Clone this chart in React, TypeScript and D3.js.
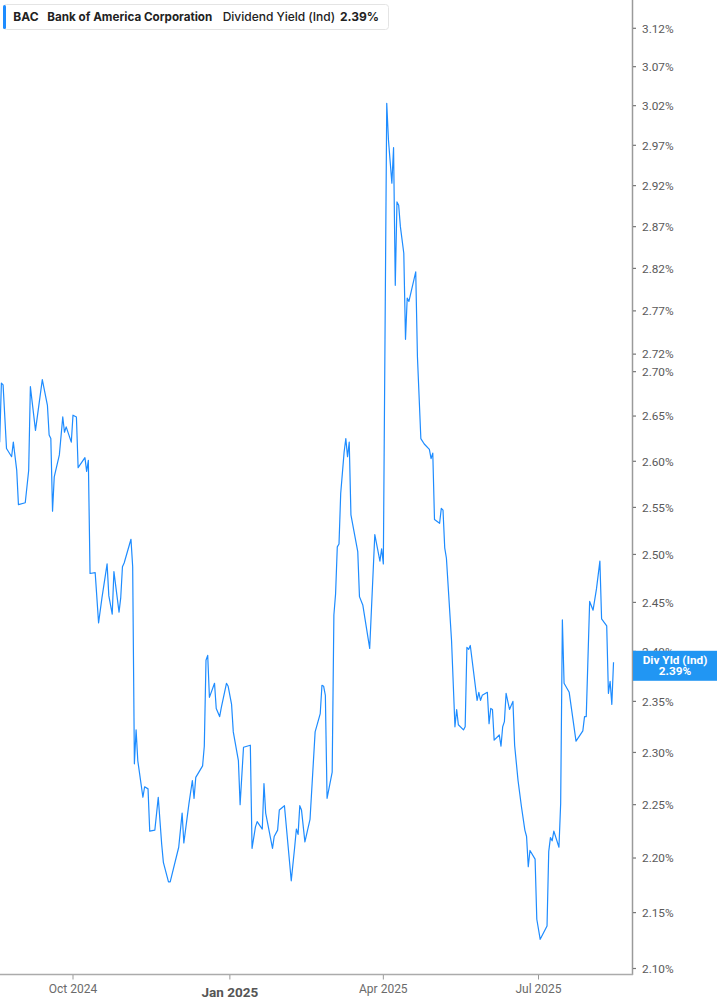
import React from "react";
import * as d3 from "d3";

const dates: string[] = [
  "2024-08-19","2024-08-20","2024-08-21","2024-08-23","2024-08-26","2024-08-27","2024-08-29","2024-08-30",
  "2024-09-03","2024-09-05","2024-09-06","2024-09-09","2024-09-13","2024-09-16","2024-09-17","2024-09-18",
  "2024-09-19","2024-09-20","2024-09-23","2024-09-25","2024-09-26","2024-09-27","2024-09-30","2024-10-01",
  "2024-10-03","2024-10-04","2024-10-08","2024-10-09","2024-10-10","2024-10-11","2024-10-14","2024-10-16",
  "2024-10-18","2024-10-21","2024-10-22","2024-10-24","2024-10-25","2024-10-28","2024-10-29","2024-10-30",
  "2024-10-31","2024-11-04","2024-11-05","2024-11-06","2024-11-07","2024-11-08","2024-11-11","2024-11-12",
  "2024-11-14","2024-11-15","2024-11-18","2024-11-20","2024-11-22","2024-11-23","2024-11-26","2024-11-27",
  "2024-12-02","2024-12-04","2024-12-05","2024-12-08","2024-12-10","2024-12-11","2024-12-12","2024-12-16",
  "2024-12-17","2024-12-18","2024-12-19","2024-12-20","2024-12-23","2024-12-24","2024-12-26","2024-12-27",
  "2024-12-30","2024-12-31","2025-01-02","2025-01-03","2025-01-06","2025-01-07","2025-01-09","2025-01-13",
  "2025-01-14","2025-01-16","2025-01-17","2025-01-20","2025-01-21","2025-01-22","2025-01-26","2025-01-27",
  "2025-01-29","2025-01-30","2025-02-02","2025-02-06","2025-02-08","2025-02-09","2025-02-10","2025-02-11",
  "2025-02-12","2025-02-14","2025-02-17","2025-02-20","2025-02-23","2025-02-24","2025-02-25","2025-02-26",
  "2025-02-27","2025-03-02","2025-03-03","2025-03-04","2025-03-05","2025-03-06","2025-03-07","2025-03-09",
  "2025-03-10","2025-03-11","2025-03-12","2025-03-13","2025-03-17","2025-03-18","2025-03-20","2025-03-24",
  "2025-03-27","2025-03-30","2025-03-31","2025-04-01","2025-04-03","2025-04-04","2025-04-06","2025-04-07",
  "2025-04-08","2025-04-09","2025-04-10","2025-04-11","2025-04-13","2025-04-14","2025-04-15","2025-04-16",
  "2025-04-20","2025-04-21","2025-04-23","2025-04-25","2025-04-28","2025-04-29","2025-04-30","2025-05-01",
  "2025-05-04","2025-05-05","2025-05-06","2025-05-07","2025-05-08","2025-05-11","2025-05-13","2025-05-14",
  "2025-05-15","2025-05-18","2025-05-19","2025-05-20","2025-05-21","2025-05-22","2025-05-26","2025-05-27",
  "2025-05-28","2025-05-29","2025-06-01","2025-06-02","2025-06-03","2025-06-04","2025-06-05","2025-06-08",
  "2025-06-09","2025-06-10","2025-06-11","2025-06-12","2025-06-14","2025-06-16","2025-06-17","2025-06-19",
  "2025-06-21","2025-06-23","2025-06-24","2025-06-25","2025-06-26","2025-06-29","2025-06-30","2025-07-02",
  "2025-07-06","2025-07-07","2025-07-08","2025-07-09","2025-07-10","2025-07-13","2025-07-14","2025-07-15",
  "2025-07-16","2025-07-19","2025-07-23","2025-07-27","2025-07-28","2025-07-29","2025-07-31","2025-08-02",
  "2025-08-04","2025-08-06","2025-08-07","2025-08-10","2025-08-11","2025-08-12","2025-08-13","2025-08-14",
];

const yields: number[] = [
  2.621,2.687,2.685,2.614,2.605,2.621,2.590,2.553,
  2.555,2.590,2.683,2.634,2.691,2.662,2.629,2.625,
  2.546,2.583,2.607,2.649,2.632,2.638,2.621,2.651,
  2.649,2.593,2.604,2.589,2.601,2.480,2.481,2.429,
  2.455,2.490,2.457,2.438,2.482,2.440,2.455,2.487,
  2.491,2.516,2.487,2.289,2.322,2.292,2.257,2.267,
  2.265,2.225,2.226,2.257,2.213,2.196,2.178,2.178,
  2.210,2.242,2.214,2.251,2.273,2.256,2.276,2.287,
  2.306,2.391,2.396,2.354,2.368,2.343,2.335,2.344,
  2.368,2.365,2.347,2.320,2.292,2.250,2.305,2.307,
  2.209,2.229,2.234,2.227,2.270,2.242,2.209,2.220,
  2.226,2.245,2.249,2.179,2.210,2.227,2.222,2.249,
  2.245,2.215,2.236,2.320,2.338,2.366,2.365,2.356,
  2.256,2.281,2.437,2.459,2.508,2.511,2.565,2.610,
  2.625,2.605,2.621,2.542,2.503,2.456,2.447,2.403,
  2.521,2.493,2.506,2.490,3.023,2.977,2.923,2.967,
  2.800,2.900,2.896,2.870,2.838,2.737,2.785,2.781,
  2.816,2.717,2.625,2.619,2.613,2.603,2.609,2.537,
  2.533,2.549,2.547,2.507,2.496,2.411,2.325,2.342,
  2.327,2.322,2.325,2.404,2.402,2.406,2.351,2.359,
  2.351,2.356,2.359,2.328,2.343,2.342,2.312,2.317,
  2.306,2.325,2.330,2.358,2.342,2.350,2.307,2.273,
  2.248,2.226,2.220,2.192,2.207,2.199,2.144,2.126,
  2.138,2.206,2.219,2.216,2.225,2.210,2.251,2.432,
  2.368,2.359,2.311,2.321,2.335,2.335,2.451,2.442,
  2.464,2.493,2.433,2.426,2.358,2.370,2.347,2.389,
];

const yTickValues: number[] = [
  3.12, 3.07, 3.02, 2.97, 2.92, 2.87, 2.82, 2.77, 2.72, 2.70, 2.65,
  2.60, 2.55, 2.50, 2.45, 2.40, 2.35, 2.30, 2.25, 2.20, 2.15, 2.10,
];

const xTickDates: string[] = ["2024-10-01", "2025-01-01", "2025-04-01", "2025-07-01"];
const xTickLabels: string[] = ["Oct 2024", "Jan 2025", "Apr 2025", "Jul 2025"];
const xTickMajor: boolean[] = [false, true, false, false];

const ticker = "BAC";
const company = "Bank of America Corporation";
const metric = "Dividend Yield (Ind)";
const lastValueText = "2.39%";
const badgeTitle = "Div Yld (Ind)";

const W = 717;
const H = 1005;
const plotRight = 632;
const plotBottom = 974;
const LINE = "#1e8cff";
const BADGE = "#2196f3";

const parse = d3.timeParse("%Y-%m-%d");

export default function App() {
  const data = dates.map((d, i) => ({ date: parse(d) as Date, v: yields[i] }));

  const x = d3
    .scaleTime()
    .domain([parse("2024-10-01") as Date, parse("2025-07-01") as Date])
    .range([73, 538.5]);
  const y = d3.scaleLog().domain([2.1, 3.12]).range([968.5, 28.3]);

  const line = d3
    .line<{ date: Date; v: number }>()
    .x((d) => x(d.date))
    .y((d) => y(d.v));

  const last = data[data.length - 1];
  const badgeCy = y(last.v) + 3.5;

  return (
    <div style={{ position: "absolute", left: 0, top: 0 }}>
      <svg width={W} height={H} style={{ display: "block", background: "#fff" }}>
        <defs>
          <clipPath id="plotclip">
            <rect x={0} y={0} width={plotRight} height={plotBottom} />
          </clipPath>
        </defs>

        {/* series line */}
        <path
          d={line(data) || ""}
          fill="none"
          stroke={LINE}
          strokeWidth={1.2}
          strokeLinejoin="round"
          clipPath="url(#plotclip)"
        />

        {/* y axis */}
        <line x1={plotRight + 0.5} x2={plotRight + 0.5} y1={0} y2={plotBottom + 1} stroke="#9a9a9a" strokeWidth={1.5} />
        {yTickValues.map((t) => (
          <g key={t} transform={`translate(0,${y(t)})`}>
            <line x1={plotRight + 1} x2={plotRight + 4} y1={0} y2={0} stroke="#777" strokeWidth={1.2} />
            <text
              x={642}
              y={0}
              dy="0.36em"
              fontFamily="Roboto, 'Noto Sans', sans-serif"
              fontSize={11.8}
              fill="#5a5a5a"
            >
              {t.toFixed(2)}%
            </text>
          </g>
        ))}

        {/* x axis */}
        <line x1={0} x2={plotRight + 1} y1={plotBottom + 0.5} y2={plotBottom + 0.5} stroke="#ababab" strokeWidth={1.7} />
        {xTickDates.map((d, i) => {
          const px = x(parse(d) as Date);
          const major = xTickMajor[i];
          return (
            <g key={d}>
              <line x1={px} x2={px} y1={plotBottom + 1} y2={plotBottom + 5.5} stroke="#999" strokeWidth={1} />
              <text
                x={px}
                y={major ? 996.7 : 993.3}
                textAnchor="middle"
                fontFamily="Roboto, 'Noto Sans', sans-serif"
                fontSize={major ? 13.5 : 12}
                fontWeight={major ? 700 : 400}
                fill={major ? "#555" : "#6a6a6a"}
              >
                {xTickLabels[i]}
              </text>
            </g>
          );
        })}

        {/* last value badge */}
        <rect x={plotRight + 1} y={badgeCy - 15} width={W - plotRight - 1} height={30} fill={BADGE} />
        <text
          x={675}
          y={badgeCy - 2}
          textAnchor="middle"
          fontFamily="Roboto, 'Noto Sans', sans-serif"
          fontSize={11.8}
          fontWeight={700}
          fill="#fff"
        >
          {badgeTitle}
        </text>
        <text
          x={675}
          y={badgeCy + 9.5}
          textAnchor="middle"
          fontFamily="Roboto, 'Noto Sans', sans-serif"
          fontSize={11.8}
          fontWeight={700}
          fill="#fff"
        >
          {d3.format(".2f")(last.v)}%
        </text>

        {/* header legend */}
        <rect x={3.5} y={4.5} width={385} height={25} rx={3} fill="#fff" stroke="#e4e4e4" />
        <rect x={3} y={5} width={3} height={24} rx={1.5} fill={LINE} />
        <g fontFamily="Inter, 'Noto Sans', sans-serif" fontSize={12} fill="#222">
          <text x={13.3} y={20.7} fontWeight={700}>{ticker}</text>
          <text x={47.3} y={20.7} fontWeight={700} textLength={165} lengthAdjust="spacingAndGlyphs">{company}</text>
          <text x={222.7} y={20.7} fontWeight={500}>{metric}</text>
          <text x={340} y={20.7} fontWeight={700}>{lastValueText}</text>
        </g>
      </svg>
    </div>
  );
}
